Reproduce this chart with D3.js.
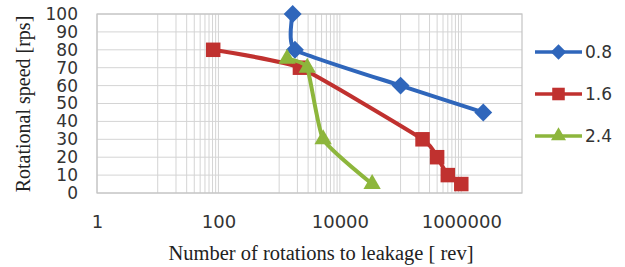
<!DOCTYPE html>
<html>
  <head>
    <script src="https://d3js.org/d3.v7.min.js"></script>
  </head>
  <style>
    body { margin: 0; background: white; }
  </style>
  <body>
    <svg width="625" height="267"></svg>
    <script>
      // data
      var series = ["0.8", "1.6", "2.4"];
      var rev08 = [1670, 1820, 100000, 2300000];
      var rps08 = [100, 80, 60, 45];
      var rev16 = [82, 2200, 230000, 400000, 600000, 1000000];
      var rps16 = [80, 70, 30, 20, 10, 5];
      var rev24 = [1350, 2900, 5300, 34000];
      var rps24 = [75, 70, 30, 5];
      var xTicks = [1, 100, 10000, 1000000];
      var yTicks = [0, 10, 20, 30, 40, 50, 60, 70, 80, 90, 100];

      var colors = ["#2f66bb", "#c0312f", "#8db63c"];
      var shapes = [d3.symbolSquare, d3.symbolSquare, d3.symbolTriangle];
      var sizes = [160, 210, 130];
      var rotations = [45, 0, 0];

      var svg = d3.select("svg");
      var pLeft = 97, pRight = 522, pTop = 14, pBottom = 193;

      var x = d3.scaleLog().domain([1, 1e7]).range([pLeft, pRight]);
      var y = d3.scaleLinear().domain([0, 100]).range([pBottom, pTop]);

      // vertical gridlines: majors every 2 decades, minors in the odd decades
      var vgrid = [];
      [10, 1000, 100000].forEach(function (b) {
        for (var m = 1; m <= 9; m++) vgrid.push(b * m);
      });
      vgrid = vgrid.concat(xTicks);

      svg.append("g")
        .selectAll("line")
        .data(vgrid)
        .enter()
        .append("line")
        .attr("x1", function (d) { return x(d); })
        .attr("x2", function (d) { return x(d); })
        .attr("y1", pTop)
        .attr("y2", pBottom)
        .style("stroke", "#d4d4d4")
        .style("stroke-width", 1);

      svg.append("g")
        .selectAll("line")
        .data(yTicks)
        .enter()
        .append("line")
        .attr("x1", pLeft)
        .attr("x2", pRight)
        .attr("y1", function (d) { return y(d); })
        .attr("y2", function (d) { return y(d); })
        .style("stroke", "#d4d4d4")
        .style("stroke-width", 1);

      svg.append("rect")
        .attr("x", pLeft)
        .attr("y", pTop)
        .attr("width", pRight - pLeft)
        .attr("height", pBottom - pTop)
        .style("fill", "none")
        .style("stroke", "#c4c4c4")
        .style("stroke-width", 1.2);

      // axes (labels only)
      var yAxis = svg.append("g")
        .attr("transform", "translate(" + (pLeft - 19) + ",0)")
        .call(d3.axisLeft(y).tickValues(yTicks).tickSize(0).tickPadding(0));
      yAxis.select(".domain").remove();
      yAxis.selectAll("text")
        .style("font-family", "DejaVu Sans")
        .style("font-size", "17px")
        .style("fill", "#333");

      var xAxis = svg.append("g")
        .attr("transform", "translate(0," + (pBottom + 22) + ")")
        .call(d3.axisBottom(x).tickValues(xTicks).tickFormat(d3.format("d")).tickSize(0).tickPadding(0));
      xAxis.select(".domain").remove();
      xAxis.selectAll("text")
        .style("font-family", "DejaVu Sans")
        .style("font-size", "18px")
        .style("fill", "#333");

      svg.append("text")
        .attr("x", 321)
        .attr("y", 260)
        .attr("text-anchor", "middle")
        .style("font-family", "Liberation Serif")
        .style("font-size", "20.5px")
        .style("fill", "#222")
        .text("Number of rotations to leakage [ rev]");

      svg.append("text")
        .attr("transform", "translate(30,104)rotate(-90)")
        .attr("text-anchor", "middle")
        .style("font-family", "Liberation Serif")
        .style("font-size", "20px")
        .style("fill", "#222")
        .text("Rotational speed [rps]");

      var line = d3.line()
        .x(function (d) { return x(d[0]); })
        .y(function (d) { return y(d[1]); })
        .curve(d3.curveCardinal.tension(0.55));

      var data = [d3.zip(rev08, rps08), d3.zip(rev16, rps16), d3.zip(rev24, rps24)];

      data.forEach(function (pts, i) {
        svg.append("path")
          .datum(pts)
          .attr("d", line)
          .style("fill", "none")
          .style("stroke", colors[i])
          .style("stroke-width", 4);
        svg.append("g")
          .selectAll("path")
          .data(pts)
          .enter()
          .append("path")
          .attr("d", d3.symbol().type(shapes[i]).size(sizes[i]))
          .attr("transform", function (d) {
            return "translate(" + x(d[0]) + "," + y(d[1]) + ")rotate(" + rotations[i] + ")";
          })
          .style("fill", colors[i]);
      });

      // legend
      var legend = svg.append("g");
      series.forEach(function (s, i) {
        var ly = 52 + i * 42;
        legend.append("line")
          .attr("x1", 535).attr("x2", 582)
          .attr("y1", ly).attr("y2", ly)
          .style("stroke", colors[i])
          .style("stroke-width", 3.5);
        legend.append("path")
          .attr("d", d3.symbol().type(shapes[i]).size(sizes[i] * 0.75))
          .attr("transform", "translate(558.5," + ly + ")rotate(" + rotations[i] + ")")
          .style("fill", colors[i]);
        legend.append("text")
          .attr("x", 585)
          .attr("y", ly + 6)
          .style("font-family", "DejaVu Sans")
          .style("font-size", "17px")
          .style("fill", "#333")
          .text(s);
      });
    </script>
  </body>
</html>
